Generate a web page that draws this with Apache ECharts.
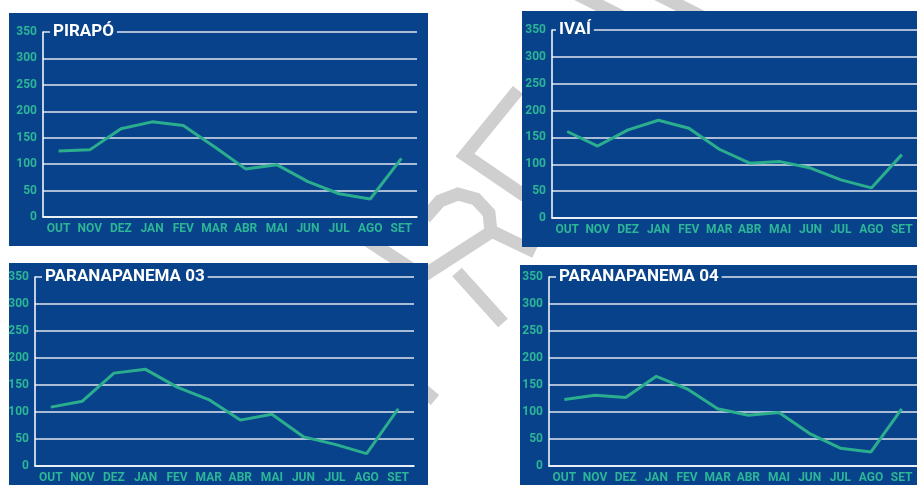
<!DOCTYPE html>
<html><head><meta charset="utf-8">
<script src="https://cdn.jsdelivr.net/npm/echarts@6/dist/echarts.min.js"></script>
<style>html,body{margin:0;padding:0;background:#fff}#c{width:917px;height:485px}</style>
</head><body><div id="c"></div>
<script>
const months = ['OUT','NOV','DEZ','JAN','FEV','MAR','ABR','MAI','JUN','JUL','AGO','SET'];
const titles = ['PIRAPÓ','IVAÍ','PARANAPANEMA 03','PARANAPANEMA 04'];
const pirapo = [125,127,167,180,173,133,91,99,67,44,34,111];
const ivai = [161,134,164,182,167,128,102,105,93,71,56,118];
const paranapanema03 = [109,120,172,179,146,123,85,96,54,40,23,106];
const paranapanema04 = [123,131,127,166,143,106,94,99,60,33,26,106];
const yTicks = [0,50,100,150,200,250,300,350];

const seriesData = [pirapo, ivai, paranapanema03, paranapanema04];
const navy = '#08428a', teal = '#2db597', lineCol = '#2aae8e', font = 'Roboto, "Liberation Sans", sans-serif';
const grids = [
  {left:43, top:32, width:374, height:185},
  {left:552, top:30, width:367, height:188},
  {left:35, top:277, width:379, height:189},
  {left:549, top:277, width:370, height:189}
];
const titlePos = [{left:50, top:21},{left:556, top:19},{left:42, top:266},{left:556, top:266}];
const panels = [[9,13,419,233],[522,11,395,236],[9,263,419,222],[520,265,397,220]];
const wm = '#cfcfcf';
const wmLines = [
  [[565,-12],[640,26]],[[645,-12],[720,26]],
  [[518,90],[465,155],[525,196]],
  [[425,218],[440,201],[458,194],[476,199],[489,213],[491,232],[423,276],[400,292]],
  [[489,230],[535,252]],
  [[457,272],[503,323]],
  [[355,232],[425,278]],
  [[405,375],[435,400]]
];
const graphic = [];
wmLines.forEach(p => graphic.push({type:'polyline', z:-100, silent:true, shape:{points:p}, style:{stroke:wm, lineWidth:13, fill:'none', lineJoin:'miter'}}));
panels.forEach(r => graphic.push({type:'rect', z:-50, silent:true, shape:{x:r[0],y:r[1],width:r[2],height:r[3]}, style:{fill:navy, stroke:'none'}}));

const option = {
  animation:false,
  backgroundColor:'#ffffff',
  graphic: {elements: graphic},
  title: titles.map((t,i)=>({text:t, left:titlePos[i].left, top:titlePos[i].top, padding:[0,3,0,3], backgroundColor:navy, z:10,
    textStyle:{color:'#ffffff', fontSize:17, fontWeight:'bold', fontFamily:font, lineHeight:22}})),
  grid: grids,
  xAxis: grids.map((g,i)=>({type:'category', gridIndex:i, data:months, boundaryGap:true, z:3,
    axisLine:{lineStyle:{color:'#ffffff', width:1.5}},
    axisTick:{inside:true, length:5, alignWithLabel:true, lineStyle:{color:'#ffffff', width:1.5}},
    axisLabel:{color:teal, fontSize:12, fontWeight:'bold', fontFamily:font, margin:6, interval:0},
    splitLine:{show:false}})),
  yAxis: grids.map((g,i)=>({type:'value', gridIndex:i, min:yTicks[0], max:yTicks[yTicks.length-1], interval:50, z:3,
    axisLine:{show:true, lineStyle:{color:'#ffffff', width:1.5}},
    axisTick:{show:false},
    axisLabel:{color:teal, fontSize:12, fontWeight:'bold', fontFamily:font, margin:6},
    splitLine:{show:true, lineStyle:{color:'#dfe4ee', width:1.5}}})),
  series: seriesData.map((d,i)=>({type:'line', xAxisIndex:i, yAxisIndex:i, data:d, symbol:'none',
    lineStyle:{color:lineCol, width:3}, z:5}))
};
echarts.init(document.getElementById('c')).setOption(option);
</script></body></html>
